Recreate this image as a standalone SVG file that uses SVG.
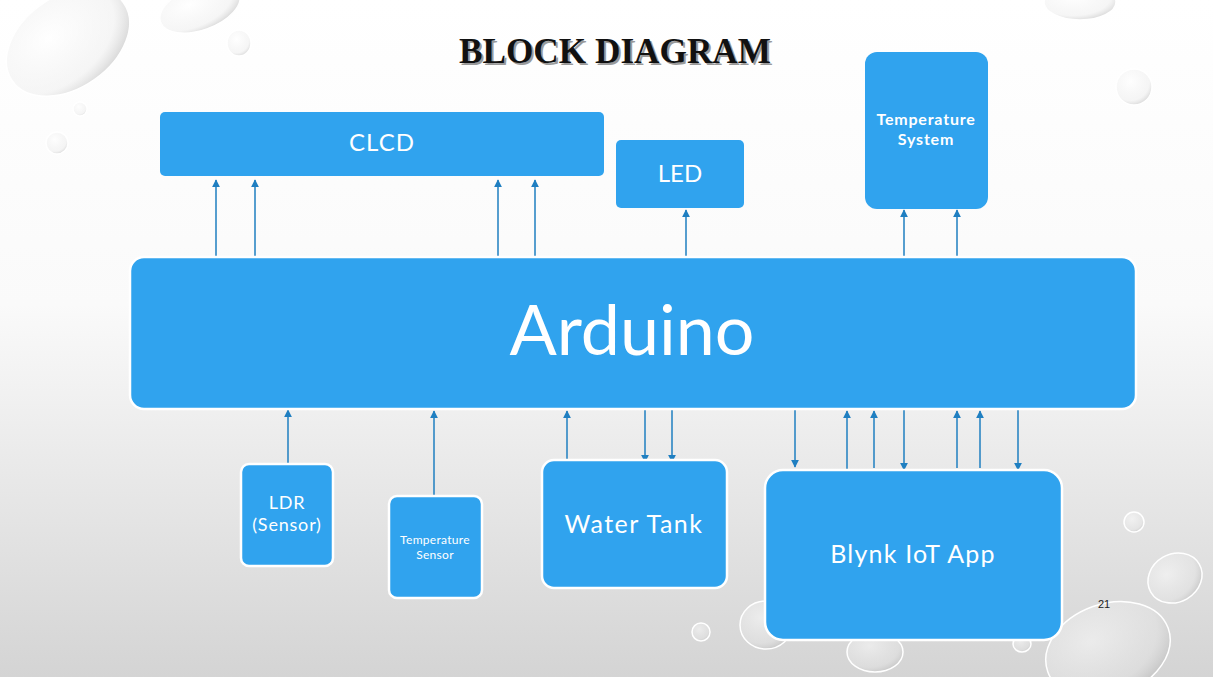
<svg xmlns="http://www.w3.org/2000/svg" width="1213" height="677" viewBox="0 0 1213 677">
<defs>
<linearGradient id="bg" x1="0" y1="0" x2="0" y2="1">
<stop offset="0" stop-color="#ffffff"/>
<stop offset="0.45" stop-color="#fafafa"/>
<stop offset="1" stop-color="#d4d4d4"/>
</linearGradient>
<radialGradient id="drop" cx="0.4" cy="0.35" r="0.7">
<stop offset="0" stop-color="#ffffff" stop-opacity="0.5"/>
<stop offset="0.75" stop-color="#e8e8e8" stop-opacity="0.4"/>
<stop offset="1" stop-color="#b8b8b8" stop-opacity="0.6"/>
</radialGradient>
<marker id="ah" viewBox="0 0 10 10" refX="9" refY="5" markerWidth="8" markerHeight="8" markerUnits="userSpaceOnUse" orient="auto">
<path d="M0,0 L10,5 L0,10 Z" fill="#1f7fc1"/>
</marker>
<style>
.box{fill:#30a3ee;}
.bs{stroke:#ffffff;stroke-width:2.5;}
.t{font-family:Lato,"Noto Sans","Liberation Sans",sans-serif;fill:#ffffff;text-anchor:middle;}
.c{stroke:#1f7fc1;stroke-width:1.5;fill:none;marker-end:url(#ah);}
.d{fill:url(#drop);stroke:#ffffff;stroke-width:1.5;}
</style>
</defs>
<rect width="1213" height="677" fill="url(#bg)"/>
<g id="droplets">
<ellipse class="d" cx="68" cy="42" rx="68" ry="46" transform="rotate(-35 68 42)"/>
<ellipse class="d" cx="200" cy="8" rx="42" ry="22" transform="rotate(-20 200 8)"/>
<ellipse class="d" cx="239" cy="43" rx="12" ry="13"/>
<circle class="d" cx="80" cy="109" r="7"/>
<circle class="d" cx="57" cy="143" r="11"/>
<ellipse class="d" cx="1080" cy="2" rx="36" ry="18"/>
<circle class="d" cx="1134" cy="87" r="18"/>
<circle class="d" cx="1134" cy="522" r="10"/>
<ellipse class="d" cx="1175" cy="578" rx="28" ry="24" transform="rotate(-30 1175 578)"/>
<ellipse class="d" cx="1108" cy="650" rx="64" ry="46" transform="rotate(-20 1108 650)"/>
<circle class="d" cx="701" cy="632" r="9"/>
<ellipse class="d" cx="766" cy="625" rx="26" ry="24"/>
<ellipse class="d" cx="875" cy="652" rx="28" ry="20"/>
<ellipse class="d" cx="1022" cy="644" rx="9" ry="8"/>
</g>
<g id="title">
<text x="617" y="65" font-family="'Liberation Serif',serif" font-weight="bold" font-size="36" text-anchor="middle" textLength="312" lengthAdjust="spacingAndGlyphs" fill="#9a9a9a">BLOCK DIAGRAM</text>
<text x="615" y="63" font-family="'Liberation Serif',serif" font-weight="bold" font-size="36" text-anchor="middle" textLength="312" lengthAdjust="spacingAndGlyphs" fill="#111111">BLOCK DIAGRAM</text>
</g>
<g id="connectors">
<line class="c" x1="216" y1="257" x2="216" y2="180"/>
<line class="c" x1="255" y1="257" x2="255" y2="180"/>
<line class="c" x1="498" y1="257" x2="498" y2="180"/>
<line class="c" x1="535" y1="257" x2="535" y2="180"/>
<line class="c" x1="686" y1="257" x2="686" y2="210"/>
<line class="c" x1="904" y1="257" x2="904" y2="210"/>
<line class="c" x1="957" y1="257" x2="957" y2="210"/>
<line class="c" x1="288" y1="464" x2="288" y2="410"/>
<line class="c" x1="434" y1="496" x2="434" y2="411"/>
<line class="c" x1="567" y1="460" x2="567" y2="411"/>
<line class="c" x1="645" y1="410" x2="645" y2="462"/>
<line class="c" x1="672" y1="410" x2="672" y2="462"/>
<line class="c" x1="795" y1="410" x2="795" y2="467"/>
<line class="c" x1="847" y1="470" x2="847" y2="411"/>
<line class="c" x1="874" y1="468" x2="874" y2="411"/>
<line class="c" x1="904" y1="410" x2="904" y2="470"/>
<line class="c" x1="957" y1="468" x2="957" y2="411"/>
<line class="c" x1="980" y1="468" x2="980" y2="411"/>
<line class="c" x1="1018" y1="410" x2="1018" y2="470"/>
</g>
<g id="clcd">
<rect class="box" x="160" y="112" width="444" height="64" rx="5"/>
<text class="t" x="382" y="151" font-size="24" letter-spacing="1">CLCD</text>
</g>
<g id="led">
<rect class="box" x="616" y="140" width="128" height="68" rx="5"/>
<text class="t" x="680" y="182" font-size="24">LED</text>
</g>
<g id="temperature-system">
<rect class="box" x="865" y="52" width="123" height="157" rx="12"/>
<text class="t" x="926" y="125" font-size="16" font-weight="bold" letter-spacing="0.8">Temperature</text>
<text class="t" x="926" y="145" font-size="16" font-weight="bold" letter-spacing="0.8">System</text>
</g>
<g id="arduino">
<rect class="box bs" x="130" y="257" width="1006" height="152" rx="14"/>
<text class="t" x="632" y="355" font-size="70">Arduino</text>
</g>
<g id="ldr">
<rect class="box bs" x="241" y="464" width="92" height="102" rx="8"/>
<text class="t" x="287" y="509" font-size="18" letter-spacing="0.8">LDR</text>
<text class="t" x="287" y="531" font-size="18" letter-spacing="0.8">(Sensor)</text>
</g>
<g id="temperature-sensor">
<rect class="box bs" x="389" y="496" width="93" height="102" rx="8"/>
<text class="t" x="435" y="544" font-size="12" letter-spacing="0.3">Temperature</text>
<text class="t" x="435" y="559" font-size="12" letter-spacing="0.3">Sensor</text>
</g>
<g id="water-tank">
<rect class="box bs" x="542" y="460" width="185" height="128" rx="12"/>
<text class="t" x="634" y="533" font-size="25" letter-spacing="1.5">Water Tank</text>
</g>
<g id="blynk">
<rect class="box bs" x="765" y="470" width="297" height="170" rx="18"/>
<text class="t" x="913" y="563" font-size="25" letter-spacing="1.2">Blynk IoT App</text>
</g>
<text x="1104" y="608" font-family="'Liberation Sans',sans-serif" font-size="11" fill="#222222" text-anchor="middle">21</text>
</svg>
